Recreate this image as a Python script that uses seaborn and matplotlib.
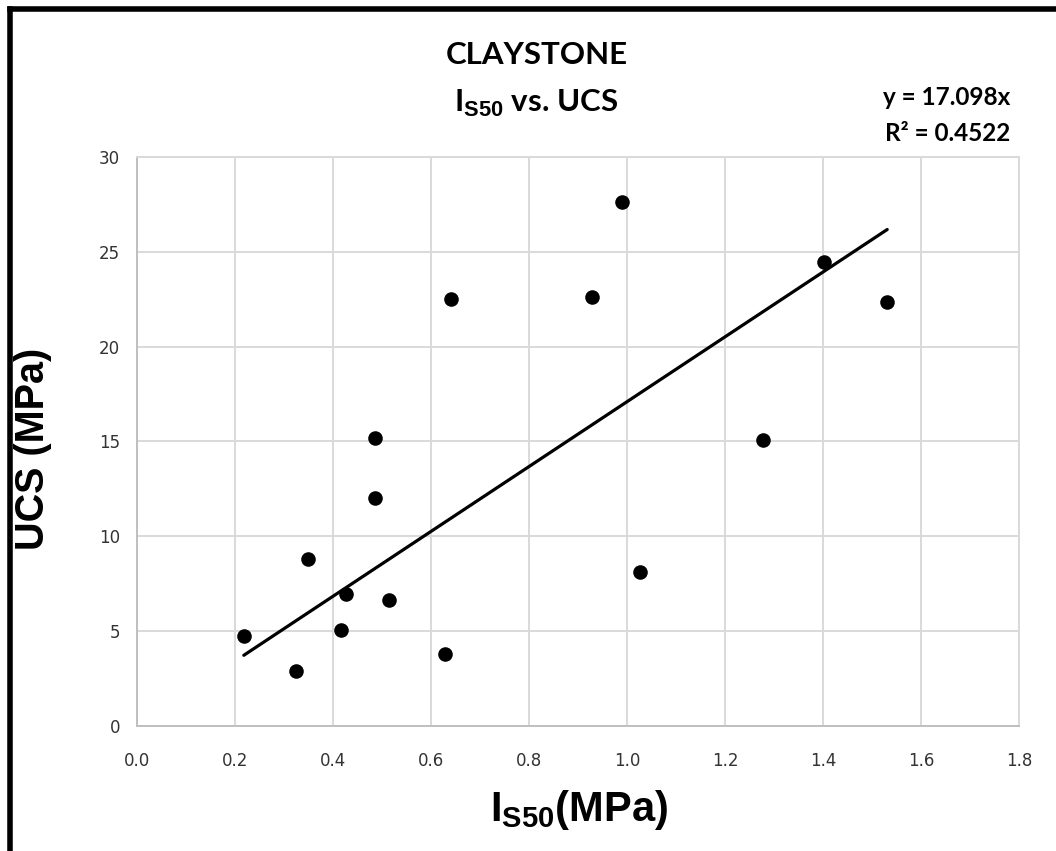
import matplotlib
matplotlib.use("Agg")
import matplotlib.pyplot as plt
import seaborn as sns
import numpy as np
import pandas as pd
from matplotlib.lines import Line2D

# ---- data ----
is50 = [0.218, 0.324, 0.349, 0.416, 0.427, 0.486, 0.486, 0.514,
        0.629, 0.641, 0.929, 0.990, 1.027, 1.278, 1.402, 1.531]
ucs = [4.74, 2.90, 8.80, 5.06, 6.96, 15.18, 12.0, 6.64,
       3.80, 22.50, 22.60, 27.65, 8.10, 15.08, 24.45, 22.35]
slope = 17.098
r2 = 0.4522
xticks = [0.0, 0.2, 0.4, 0.6, 0.8, 1.0, 1.2, 1.4, 1.6, 1.8]
yticks = [0, 5, 10, 15, 20, 25, 30]

df = pd.DataFrame({"IS50": is50, "UCS": ucs})
fit_x = [min(is50), max(is50)]
fit = pd.DataFrame({"IS50": fit_x, "UCS": [slope * v for v in fit_x]})

sns.set_theme(style="white")
plt.rcParams["mathtext.fontset"] = "custom"
plt.rcParams["mathtext.rm"] = "Liberation Sans:bold"
plt.rcParams["mathtext.bf"] = "Liberation Sans:bold"
plt.rcParams["mathtext.it"] = "Liberation Sans:bold"

fig = plt.figure(figsize=(10.56, 8.51), dpi=100)
fig.patch.set_facecolor("white")
ax = fig.add_axes([0.1297, 0.1469, 0.8353, 0.6686])

grid_c = "#d9d9d9"
sns.lineplot(data=fit, x="IS50", y="UCS", ax=ax, color="black", linewidth=2.3, zorder=3)
sns.scatterplot(data=df, x="IS50", y="UCS", ax=ax, color="black", s=110,
                edgecolor="black", linewidth=0, zorder=4)

ax.set_xlim(0, 1.8)
ax.set_ylim(0, 30)
ax.set_xticks(xticks)
ax.set_yticks(yticks)
ax.set_xticklabels([f"{v:.1f}" for v in xticks])
ax.set_yticklabels([str(v) for v in yticks])
ax.grid(True, color=grid_c, linewidth=1.4)
ax.set_axisbelow(True)
for sp in ax.spines.values():
    sp.set_color(grid_c)
    sp.set_linewidth(1.4)
ax.spines["left"].set_color("#bfbfbf")
ax.spines["bottom"].set_color("#bfbfbf")
ax.tick_params(axis="both", length=0, labelsize=12, labelcolor="#333333",
               labelfontfamily="DejaVu Sans")
ax.tick_params(axis="x", pad=19)
ax.tick_params(axis="y", pad=12)
ax.set_xlabel("")
ax.set_ylabel("")

# axis labels
fig.text(0.548, 0.048, r"I$_{\rm S50}$(MPa)", ha="center", va="center",
         fontsize=30, fontweight="bold", family="Liberation Sans", color="black")
fig.text(0.031, 0.472, "UCS (MPa)", ha="center", va="center", rotation=90,
         fontsize=28.5, fontweight="bold", family="Liberation Sans", color="black")

# titles
fig.text(0.508, 0.935, "CLAYSTONE", ha="center", va="center",
         fontsize=22.5, fontweight="bold", family="Lato", color="black")
fig.text(0.508, 0.878, r"I$_{\rm S50}$ vs. UCS", ha="center", va="center",
         fontsize=22.5, fontweight="bold", family="Lato", color="black")

# equation
fig.text(0.957, 0.886, f"y = {slope:.3f}x", ha="right", va="center",
         fontsize=17.5, fontweight="bold", family="Lato", color="black")
fig.text(0.957, 0.843, f"R² = {r2:.4f}", ha="right", va="center",
         fontsize=17.5, fontweight="bold", family="Lato", color="black")

# frame (left and top edges)
fig.add_artist(Line2D([0.0095, 0.0095], [0.0, 0.9895], transform=fig.transFigure,
                      color="black", linewidth=4, solid_capstyle="projecting"))
fig.add_artist(Line2D([0.0095, 1.0], [0.9895, 0.9895], transform=fig.transFigure,
                      color="black", linewidth=4, solid_capstyle="projecting"))

fig.savefig("out.png", dpi=100, facecolor="white")
